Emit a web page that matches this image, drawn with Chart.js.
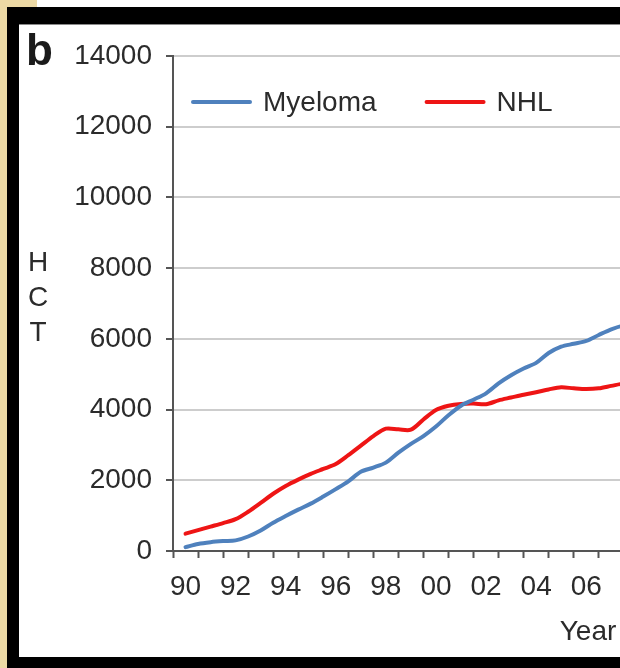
<!DOCTYPE html>
<html>
<head>
<meta charset="utf-8">
<script src="https://cdn.jsdelivr.net/npm/chart.js@4.4.1/dist/chart.umd.min.js"></script>
<style>
  html, body { margin: 0; padding: 0; }
  body { width: 620px; height: 668px; overflow: hidden; position: relative; background: #ecd9a5; }
  #topStrip { position: absolute; left: 37px; top: 0; width: 620px; height: 7px; background: #fff; }
  #frame { position: absolute; left: 7px; top: 7px; width: 800px; height: 661px; background: #000; }
  #panel { position: absolute; left: 19px; top: 24px; width: 800px; height: 633px; background: #fff; border-top: 1px solid #8a8a8a; box-sizing: border-box; }
  #chart { position: absolute; left: 19px; top: 24px; }
</style>
</head>
<body>
<div id="topStrip"></div>
<div id="frame"></div>
<div id="panel"></div>
<canvas id="chart" width="760" height="633"></canvas>
<script>
// Cumulative HCT counts at half-year steps (1990 .. 2008)
const halfYears = [1990, 1990.5, 1991, 1991.5, 1992, 1992.5, 1993, 1993.5, 1994, 1994.5,
                   1995, 1995.5, 1996, 1996.5, 1997, 1997.5, 1998, 1998.5, 1999, 1999.5,
                   2000, 2000.5, 2001, 2001.5, 2002, 2002.5, 2003, 2003.5, 2004, 2004.5,
                   2005, 2005.5, 2006, 2006.5, 2007, 2007.5, 2008]
const myeloma = [110, 200, 250, 280, 300, 410, 580, 800, 990, 1170,
                 1340, 1540, 1750, 1970, 2240, 2360, 2500, 2780, 3030, 3250,
                 3520, 3840, 4110, 4280, 4460, 4740, 4970, 5160, 5320, 5600,
                 5780, 5860, 5940, 6110, 6270, 6380, 6450]
const nhl     = [490, 590, 690, 790, 900, 1110, 1360, 1620, 1840, 2020,
                 2180, 2320, 2460, 2710, 2980, 3250, 3460, 3440, 3430, 3720,
                 3990, 4110, 4160, 4170, 4150, 4260, 4340, 4420, 4490, 4570,
                 4630, 4600, 4580, 4600, 4670, 4740, 4800]
const seriesNames = ["Myeloma", "NHL"]
const seriesColors = ["#4f81bd", "#ee1515"]
const yTicks = [0, 2000, 4000, 6000, 8000, 10000, 12000, 14000]
const yearFirst = 1990
const yearLast = 2012
const panelLabel = "b"
const yTitle = ["H", "C", "T"]
const xTitle = "Year"

const FONT = '"Liberation Sans", Arial, sans-serif'
const ink = "#2b2b2b"

const toPoints = (vals) => vals.map((v, i) => ({ x: halfYears[i], y: v }))

// axis labels, panel letter and the in-plot legend
const panelText = {
  id: "panelText",
  afterDraw(chart) {
    const ctx = chart.ctx
    const area = chart.chartArea
    ctx.save()
    ctx.fillStyle = "#1a1a1a"
    ctx.font = "bold 44px " + FONT
    ctx.textAlign = "left"
    ctx.textBaseline = "alphabetic"
    ctx.fillText(panelLabel, 7, 41)

    ctx.fillStyle = ink
    ctx.font = "28px " + FONT
    ctx.textAlign = "center"
    ctx.textBaseline = "middle"
    yTitle.forEach((ch, i) => ctx.fillText(ch, 19, 239 + i * 35))
    ctx.fillText(xTitle, 569, 608)

    // legend, top left inside the plot
    let x = area.left + 20
    const y = area.top + 46
    ctx.textAlign = "left"
    chart.data.datasets.forEach((ds) => {
      ctx.strokeStyle = ds.borderColor
      ctx.lineWidth = 4
      ctx.lineCap = "round"
      ctx.beginPath()
      ctx.moveTo(x, y)
      ctx.lineTo(x + 57, y)
      ctx.stroke()
      ctx.fillStyle = ink
      ctx.fillText(ds.label, x + 70, y + 1)
      x += 70 + ctx.measureText(ds.label).width + 50
    })
    ctx.restore()
  }
}

new Chart(document.getElementById("chart"), {
  type: "line",
  data: {
    datasets: [
      { label: seriesNames[0], data: toPoints(myeloma), borderColor: seriesColors[0] },
      { label: seriesNames[1], data: toPoints(nhl), borderColor: seriesColors[1] }
    ]
  },
  options: {
    responsive: false,
    animation: false,
    layout: { padding: { left: 0, top: 32, right: 30, bottom: 0 } },
    elements: {
      point: { radius: 0 },
      line: { borderWidth: 4, tension: 0.3, fill: false, borderCapStyle: "round" }
    },
    plugins: {
      legend: { display: false },
      tooltip: { enabled: false }
    },
    scales: {
      x: {
        type: "linear",
        min: yearFirst - 0.5,
        max: yearLast + 0.5,
        afterBuildTicks(scale) {
          // tick marks on the year boundaries, labels in the middle of every other year
          const ticks = []
          for (let v = yearFirst - 0.5; v <= yearLast + 0.5; v += 0.5) ticks.push({ value: v })
          scale.ticks = ticks
        },
        afterFit(scale) { scale.height = 106 },
        border: { display: true, color: "#555", width: 2 },
        grid: {
          drawOnChartArea: false,
          drawTicks: true,
          tickLength: 7,
          tickWidth: 2,
          tickColor: (c) => (c.tick && !Number.isInteger(c.tick.value)) ? "#555" : "rgba(0,0,0,0)"
        },
        ticks: {
          autoSkip: false,
          maxRotation: 0,
          minRotation: 0,
          padding: 12,
          color: ink,
          font: { family: FONT, size: 28 },
          callback: (v) => (Number.isInteger(v) && v % 2 === 0) ? String(v % 100).padStart(2, "0") : ""
        }
      },
      y: {
        min: 0,
        max: 14000,
        afterBuildTicks(scale) { scale.ticks = yTicks.map((v) => ({ value: v })) },
        afterFit(scale) { scale.width = 154 },
        border: { display: true, color: "#555", width: 2 },
        grid: {
          color: "#cdcdcd",
          lineWidth: 2,
          drawTicks: true,
          tickLength: 7,
          tickWidth: 2,
          tickColor: "#555"
        },
        ticks: {
          padding: 14,
          color: ink,
          font: { family: FONT, size: 28 },
          callback: (v) => String(v)
        }
      }
    }
  },
  plugins: [panelText]
})
</script>
</body>
</html>
